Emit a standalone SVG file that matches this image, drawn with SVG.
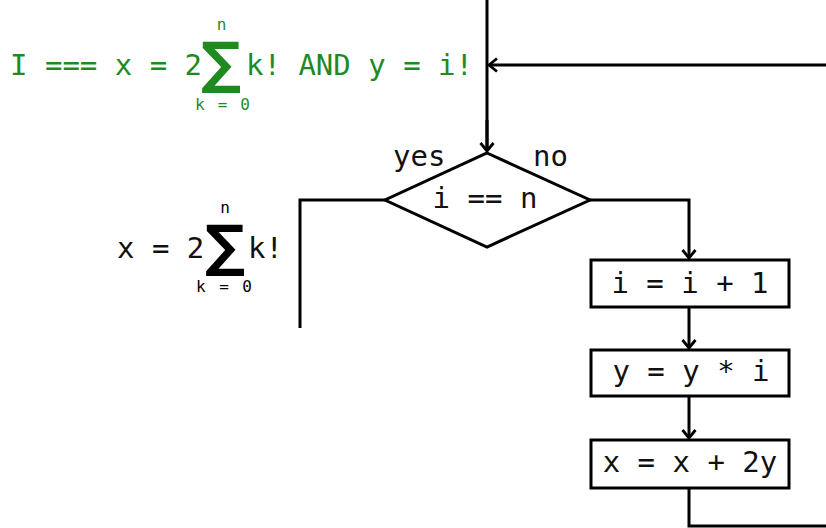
<svg xmlns="http://www.w3.org/2000/svg" width="826" height="528" viewBox="0 0 826 528">
<style>
  .t { font-family: "DejaVu Sans Mono", "Liberation Mono", monospace; font-size: 29px; fill: #111; }
  .g { fill: #1f8a1f; }
  .s { font-family: "DejaVu Sans Mono", "Liberation Mono", monospace; font-size: 16px; }
  .sig { font-family: "DejaVu Sans", "Liberation Sans", sans-serif; font-weight: bold; font-size: 56px; }
  .shape { fill: #fff; stroke: #000; stroke-width: 3; }
  .ln { fill: none; stroke: #000; stroke-width: 3; }
</style>
<defs>
  <marker id="arr" markerUnits="userSpaceOnUse" markerWidth="20" markerHeight="20" viewBox="-12 -10 14 20" refX="0" refY="0" orient="auto">
    <path d="M-8,-6.5 L0,0 L-8,6.5" fill="none" stroke="#000" stroke-width="2.8"/>
  </marker>
  <linearGradient id="fadeTop" gradientUnits="userSpaceOnUse" x1="0" y1="0" x2="0" y2="22">
    <stop offset="0" stop-color="#000" stop-opacity="0"/>
    <stop offset="1" stop-color="#000" stop-opacity="1"/>
  </linearGradient>
  <linearGradient id="fadeBot" gradientUnits="userSpaceOnUse" x1="0" y1="305" x2="0" y2="328">
    <stop offset="0" stop-color="#000" stop-opacity="1"/>
    <stop offset="1" stop-color="#000" stop-opacity="0"/>
  </linearGradient>
</defs>

<g id="connectors">
  <path class="ln" d="M487,0 V151" stroke="url(#fadeTop)"/>
  <path class="ln" d="M487,120 V151" marker-end="url(#arr)"/>
  <path class="ln" d="M826,65 H489" marker-end="url(#arr)"/>
  <path class="ln" d="M385,200 H300 V328" stroke="url(#fadeBot)"/>
  <path class="ln" d="M590,200 H689 V258" marker-end="url(#arr)"/>
  <path class="ln" d="M689,307 V348" marker-end="url(#arr)"/>
  <path class="ln" d="M689,396 V438" marker-end="url(#arr)"/>
  <path class="ln" d="M689,488 V526 H826"/>
  <text class="t" x="393" y="166">yes</text>
  <text class="t" x="533" y="166">no</text>
</g>

<g id="invariant">
  <text class="t g" x="10" y="75">I === x = 2</text>
  <text class="sig g" x="221" y="82" text-anchor="middle">∑</text>
  <text class="s g" x="221.5" y="30" text-anchor="middle">n</text>
  <text class="s g" x="195" y="110" textLength="55" lengthAdjust="spacing">k = 0</text>
  <text class="t g" x="246" y="75">k! AND y = i!</text>
</g>

<g id="decision">
  <polygon class="shape" points="487,153 590,200 487,247 385,200"/>
  <text class="t" x="485" y="208" text-anchor="middle">i == n</text>
</g>

<g id="result">
  <text class="t" x="117" y="258">x = 2</text>
  <text class="sig" x="225" y="265" text-anchor="middle">∑</text>
  <text class="s" x="225" y="213" text-anchor="middle">n</text>
  <text class="s" x="196" y="292" textLength="56" lengthAdjust="spacing">k = 0</text>
  <text class="t" x="248" y="258">k!</text>
</g>

<g id="inc-i">
  <rect class="shape" x="591" y="260" width="198" height="47"/>
  <text class="t" x="690" y="293" text-anchor="middle">i = i + 1</text>
</g>

<g id="mul-y">
  <rect class="shape" x="591" y="350" width="198" height="46"/>
  <text class="t" x="691" y="381" text-anchor="middle">y = y * i</text>
</g>

<g id="add-x">
  <rect class="shape" x="591" y="440" width="198" height="48"/>
  <text class="t" x="690" y="472" text-anchor="middle">x = x + 2y</text>
</g>
</svg>
